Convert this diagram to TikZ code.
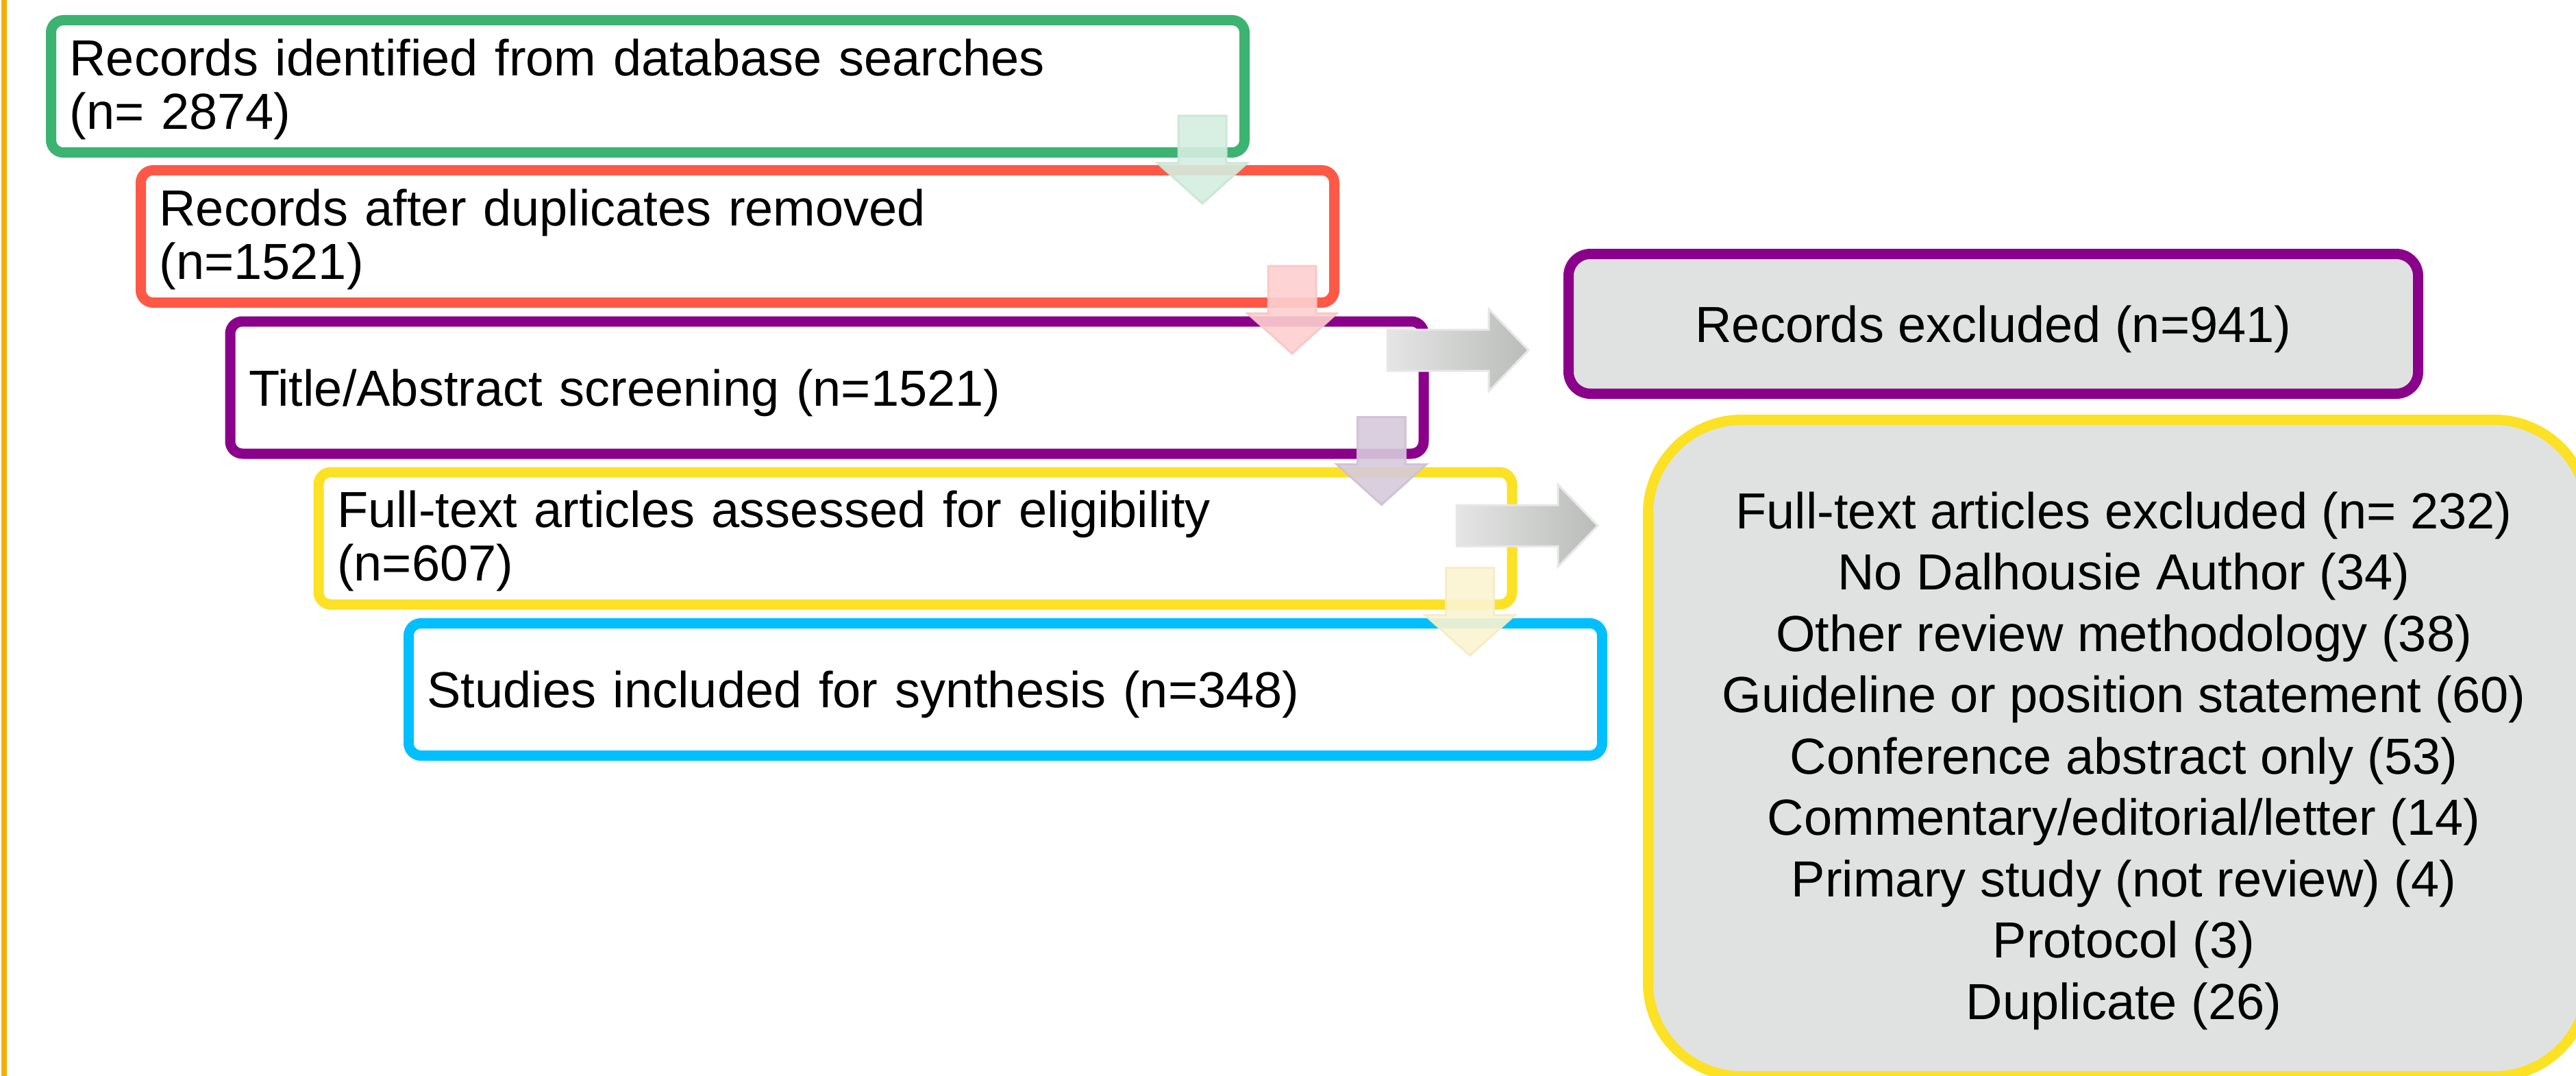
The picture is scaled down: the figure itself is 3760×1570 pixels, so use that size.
\documentclass[tikz,border=0pt]{standalone}
\usepackage{fontspec}
\setmainfont{Liberation Sans}
\usetikzlibrary{calc}
\definecolor{cgreen}{RGB}{60,179,113}
\definecolor{cred}{RGB}{255,88,70}
\definecolor{cpurple}{RGB}{139,0,139}
\definecolor{cyellow}{RGB}{252,225,36}
\definecolor{cblue}{RGB}{0,191,255}
\definecolor{corange}{RGB}{244,176,0}
\definecolor{cgrayfill}{RGB}{224,226,225}
\definecolor{agreen}{RGB}{212,238,224}
\definecolor{agreenO}{RGB}{200,230,213}
\definecolor{ared}{RGB}{253,208,207}
\definecolor{aredO}{RGB}{248,198,197}
\definecolor{apurple}{RGB}{214,202,220}
\definecolor{apurpleO}{RGB}{205,192,212}
\definecolor{ayellow}{RGB}{252,244,209}
\definecolor{ayellowO}{RGB}{245,236,195}
\definecolor{gL}{RGB}{228,229,228}
\definecolor{gR}{RGB}{186,188,186}
\definecolor{gO}{RGB}{230,231,230}
\newcommand\dnarrow[3]{%
  \filldraw[fill=#2, draw=#3, line width=3pt, fill opacity=0.9, draw opacity=0.9]
    (#1) ++(-35,0) -- ++(70,0) -- ++(0,69) -- ++(30.5,0) -- ++(-65.5,59)
    -- ++(-65.5,-59) -- ++(30.5,0) -- cycle;}
\newcommand\rtarrow[1]{%
  \shadedraw[left color=gL, right color=gR, draw=gO, line width=3pt]
    (#1) ++(0,-30) -- ++(148,0) -- ++(0,-30) -- ++(58,60) -- ++(-58,60)
    -- ++(0,-30) -- ++(-148,0) -- cycle;}
\newcommand\tallstrut{\rule{0pt}{62pt}}
\begin{document}
\begin{tikzpicture}[x=1pt,y=-1pt,
  every node/.style={font=\fontsize{74}{78}\selectfont},
  stagebox/.style={draw=#1, fill=white, line width=15pt, rounded corners=18pt,
    minimum width=1742pt, minimum height=193pt, text width=1688pt,
    inner xsep=27pt, inner ysep=0pt, align=left},
  exbox/.style={draw=#1, fill=cgrayfill, line width=15pt}]
\useasboundingbox (0,0) rectangle (3760,1570);
\clip (0,0) rectangle (3760,1570);
\fill[white] (0,0) rectangle (3760,1570);
\draw[corange, line width=8pt] (6,-10) -- (6,1580);

\node[stagebox=cgreen] (b1) at (945.5,126) {\tallstrut Records identified from database searches\\(n= 2874)};
\node[stagebox=cred] (b2) at (1076.5,345) {\tallstrut Records after duplicates removed\\(n=1521)};
\node[stagebox=cpurple, text depth=0pt] (b3) at (1207,565.5) {Title/Abstract screening (n=1521)};
\node[stagebox=cyellow] (b4) at (1336,785.5) {\tallstrut Full-text articles assessed for eligibility\\(n=607)};
\node[stagebox=cblue, text depth=0pt] (b5) at (1467.5,1006) {Studies included for synthesis (n=348)};

\node[exbox=cpurple, rounded corners=32pt, minimum width=1240pt, minimum height=204pt,
  inner sep=0pt, text depth=0pt] (rx) at (2909.5,472.5) {Records excluded (n=941)};
\node[exbox=cyellow, rounded corners=137pt, minimum width=1372pt, minimum height=958pt,
  inner sep=0pt] (fx) at (3091.5,1091.5) {};
\node[font=\fontsize{74}{89.5}\selectfont, align=center, inner sep=0pt] (fxt) at (3100,1110)
  {Full-text articles excluded (n= 232)\\
   No Dalhousie Author (34)\\
   Other review methodology (38)\\
   Guideline or position statement (60)\\
   Conference abstract only (53)\\
   Commentary/editorial/letter (14)\\
   Primary study (not review) (4)\\
   Protocol (3)\\
   Duplicate (26)};

\coordinate (d1) at ($(b1.south east)+(-69,-61)$);
\coordinate (d2) at ($(b2.south east)+(-69,-61)$);
\coordinate (d3) at ($(b3.south east)+(-69,-61)$);
\coordinate (d4) at ($(b4.south east)+(-69,-61)$);
\dnarrow{d1}{agreen}{agreenO}
\dnarrow{d2}{ared}{aredO}
\dnarrow{d3}{apurple}{apurpleO}
\dnarrow{d4}{ayellow}{ayellowO}

\coordinate (r1) at (2025,511);
\coordinate (r2) at (2126,767);
\rtarrow{r1}
\rtarrow{r2}
\end{tikzpicture}
\end{document}
